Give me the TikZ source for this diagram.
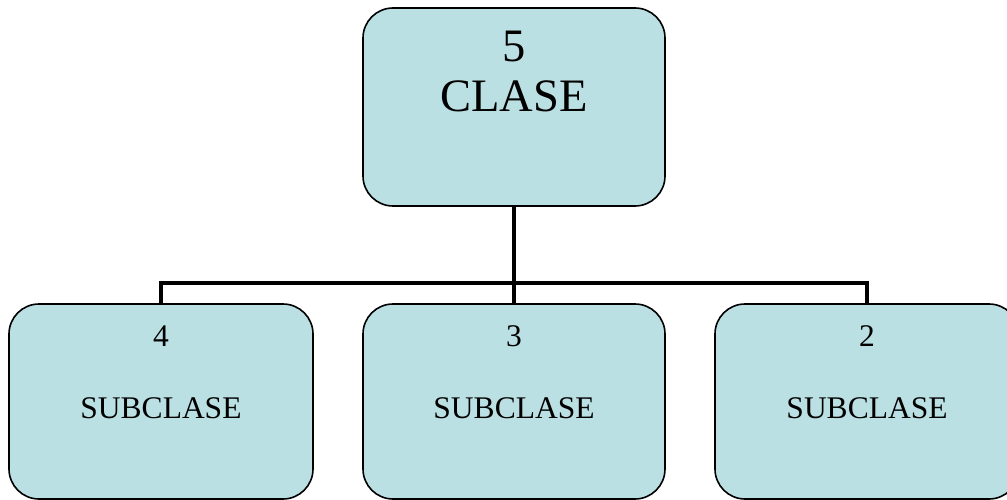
\documentclass[tikz,border=0pt]{standalone}
\usepackage{fontspec}
\setmainfont{Liberation Serif}
\definecolor{boxfill}{RGB}{186,224,227}
\begin{document}
\begin{tikzpicture}[x=1pt,y=-1pt,
  box/.style={draw=black,line width=1.6pt,fill=boxfill,rounded corners=30pt,inner sep=0pt},
  conn/.style={draw=black,line width=4.6pt,line join=miter},
  bigtxt/.style={anchor=base,inner sep=0pt,font=\fontsize{46.5}{54}\selectfont},
  smalltxt/.style={anchor=base,inner sep=0pt,font=\fontsize{31.5}{36}\selectfont}]
\useasboundingbox (0,0) rectangle (1007,500);
\clip (0,0) rectangle (1007,500);
\coordinate (j) at (514,283);
\node[box,minimum width=302pt,minimum height=198pt] (top) at (514,107) {};
\node[box,minimum width=304pt,minimum height=195pt] (b1) at (161,401.5) {};
\node[box,minimum width=302pt,minimum height=195pt] (b2) at (514,401.5) {};
\node[box,minimum width=304pt,minimum height=195pt] (b3) at (867,401.5) {};
\draw[conn] (top.south) -- (j);
\draw[conn] (b1.north) |- (j) -| (b3.north);
\draw[conn] (j) -- (b2.north);
\node[bigtxt] (t5) at (514,62) {5};
\node[bigtxt] (tc) at (514,112) {CLASE};
\node[smalltxt] (n4) at (161,346) {4};
\node[smalltxt] (s4) at (161,418) {SUBCLASE};
\node[smalltxt] (n3) at (514,346) {3};
\node[smalltxt] (s3) at (514,418) {SUBCLASE};
\node[smalltxt] (n2) at (867,346) {2};
\node[smalltxt] (s2) at (867,418) {SUBCLASE};
\end{tikzpicture}
\end{document}
